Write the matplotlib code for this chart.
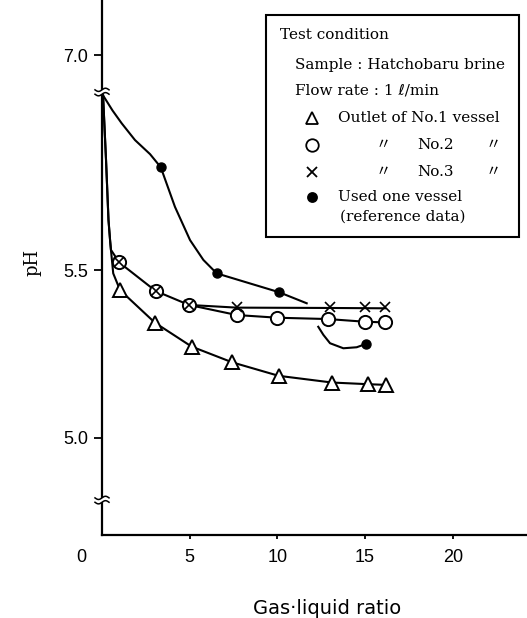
import numpy as np
import matplotlib
matplotlib.use('Agg')
import matplotlib.pyplot as plt
from matplotlib.lines import Line2D
from matplotlib.patches import Rectangle

# ---------------- data ----------------
# Outlet of No.1 vessel (triangles)
no1_x = [1.03, 3.02, 5.11, 7.43, 10.07, 13.11, 15.18, 16.19]
no1_ph = [5.440, 5.343, 5.272, 5.225, 5.185, 5.165, 5.160, 5.158]
# No.2 vessel (circles)
no2_x = [0.97, 3.06, 4.96, 7.68, 9.99, 12.88, 14.99, 16.13]
no2_ph = [5.523, 5.4375, 5.396, 5.366, 5.358, 5.354, 5.346, 5.344]
# No.3 vessel (crosses)
no3_x = [0.97, 3.06, 4.96, 7.68, 13.0, 14.99, 16.13]
no3_ph = [5.523, 5.4375, 5.396, 5.390, 5.391, 5.389, 5.389]
# Used one vessel (reference data, filled dots)
ref_x = [3.35, 6.54, 10.09, 15.05]
ref_ph = [5.806, 5.490, 5.434, 5.280]

# hand-drawn curve traces
lead_x = [0.06, 0.23, 0.37, 0.46, 0.51]          # common steep start
lead_ph = [6.88, 5.827, 5.649, 5.589, 5.560]
no1_curve_x = lead_x + [0.64] + no1_x
no1_curve_ph = lead_ph + [5.490] + no1_ph
no2_curve_x = lead_x + [0.70] + no2_x
no2_curve_ph = lead_ph + [5.545] + no2_ph
no3_curve_x = [4.96, 7.68, 13.0, 16.13]
no3_curve_ph = [5.396, 5.388, 5.387, 5.386]
ref_curve1_x = [0.06, 0.6, 1.12, 1.88, 2.74, 3.35, 4.16, 5.02, 5.78, 6.54, 8.44, 10.09, 11.67]
ref_curve1_ph = [6.88, 5.975, 5.937, 5.887, 5.845, 5.806, 5.688, 5.589, 5.530, 5.490, 5.460, 5.434, 5.401]
ref_curve2_x = [12.33, 12.62, 13.0, 13.76, 14.52, 15.05]
ref_curve2_ph = [5.331, 5.307, 5.282, 5.267, 5.270, 5.280]

x_ticks = [5, 10, 15, 20]
y_ticks = [5.0, 5.5, 7.0]
y_tick_labels = ['5.0', '5.5', '7.0']
breaks_ph = [6.89, 4.815]

# ---------------- broken pH scale ----------------
LO, HI, CF, OFF = 6.0, 6.87, 0.01 / 0.87, 0.86

def fwd(p):
    p = np.asarray(p, dtype=float)
    return np.where(p <= LO, p, np.where(p < HI, LO + (p - LO) * CF, p - OFF))

def inv(f):
    f = np.asarray(f, dtype=float)
    return np.where(f <= LO, f, np.where(f < HI - OFF, LO + (f - LO) / CF, f + OFF))

W, H = 527, 618
fig = plt.figure(figsize=(W / 100, H / 100), dpi=100)
ax = fig.add_axes([102 / W, 83 / H, 425 / W, 535 / H])
ax.set_yscale('function', functions=(fwd, inv))
ax.set_xlim(0, 24.23)
ax.set_ylim(4.711, 7.164)

lw = 1.5
col = 'black'
ax.plot(no1_curve_x, no1_curve_ph, color=col, lw=lw, zorder=2)
ax.plot(no2_curve_x, no2_curve_ph, color=col, lw=lw, zorder=2)
ax.plot(no3_curve_x, no3_curve_ph, color=col, lw=lw, zorder=2)
ax.plot(ref_curve1_x, ref_curve1_ph, color=col, lw=lw, zorder=2)
ax.plot(ref_curve2_x, ref_curve2_ph, color=col, lw=lw, zorder=2)

ax.plot(no1_x, no1_ph, ls='none', marker='^', ms=9.5, mfc='white', mec=col, mew=1.4, zorder=3)
ax.plot(no2_x, no2_ph, ls='none', marker='o', ms=9.5, mfc='white', mec=col, mew=1.4, zorder=3)
ax.plot(no3_x, no3_ph, ls='none', marker='x', ms=6.5, mec=col, mew=1.2, zorder=4)
ax.plot(ref_x, ref_ph, ls='none', marker='o', ms=6.5, mfc=col, mec=col, zorder=3)

for s in ['top', 'right']:
    ax.spines[s].set_visible(False)
for s in ['left', 'bottom']:
    ax.spines[s].set_linewidth(1.6)

ax.set_xticks(x_ticks)
ax.set_xticklabels([str(v) for v in x_ticks])
ax.set_yticks(y_ticks)
ax.set_yticklabels(y_tick_labels)
ax.minorticks_off()
ax.tick_params(axis='x', length=3, width=1.3, pad=7, labelsize=13)
ax.tick_params(axis='y', length=6, width=1.3, pad=4, labelsize=13)
for lab in ax.get_xticklabels() + ax.get_yticklabels():
    lab.set_family('Liberation Sans')

ax.annotate('0', xy=(0, 0), xycoords='axes fraction', xytext=(-21, -23),
            textcoords='offset pixels', ha='center', va='center',
            fontsize=13, family='Liberation Sans')

# axis-break symbols
for b in breaks_ph:
    px, py = ax.transData.transform((0, b))
    t = np.linspace(-7, 7, 30)
    gap = Rectangle((px - 3, py - 2), 6, 4, transform=None, facecolor='white',
                    edgecolor='none', zorder=5, clip_on=False)
    fig.add_artist(gap)
    for dy in (-2.2, 2.2):
        yy = py + dy + 1.6 * np.sin(t / 7 * np.pi)
        fig.add_artist(Line2D(px + t, yy, transform=None, color='black', lw=1.1, zorder=6))

fig.text(32 / W, 1 - 262 / H, 'pH', rotation=90, ha='center', va='center',
         fontsize=13, family='DejaVu Serif')
fig.text(327 / W, 1 - 608 / H, 'Gas\u00b7liquid ratio', ha='center', va='center',
         fontsize=14, family='DejaVu Sans')

# legend box
fam = ['DejaVu Serif', 'DejaVu Sans', 'Noto Sans CJK JP']
fig.add_artist(Rectangle((266 / W, 1 - 237 / H), (519 - 266) / W, (237 - 15) / H,
                         transform=fig.transFigure, facecolor='white', edgecolor='black',
                         lw=1.5, zorder=10))

def ftxt(x, y, s, **kw):
    fig.text(x / W, 1 - y / H, s, ha='left', va='center', fontsize=11,
             family=fam, zorder=11, **kw)

ftxt(280, 35, 'Test condition')
ftxt(295, 65, 'Sample : Hatchobaru brine')
ftxt(295, 91, 'Flow rate : 1 \u2113/min')
ftxt(338, 118, 'Outlet of No.1 vessel')
ftxt(376, 145, '\u3003')
ftxt(417, 145, 'No.2')
ftxt(486, 145, '\u3003')
ftxt(376, 172, '\u3003')
ftxt(417, 172, 'No.3')
ftxt(486, 172, '\u3003')
ftxt(338, 197, 'Used one vessel')
ftxt(340, 217, '(reference data)')

legend_markers = [('^', 118, 'white', 8.5), ('o', 145, 'white', 9), ('x', 172, 'black', 7), ('o', 197, 'black', 6.5)]
for m, y, fc, ms in legend_markers:
    fig.add_artist(Line2D([311.7 / W], [1 - y / H], transform=fig.transFigure, ls='none',
                          marker=m, ms=ms, mfc=fc, mec='black', mew=1.3, zorder=11))

fig.savefig('out.png', dpi=100)
